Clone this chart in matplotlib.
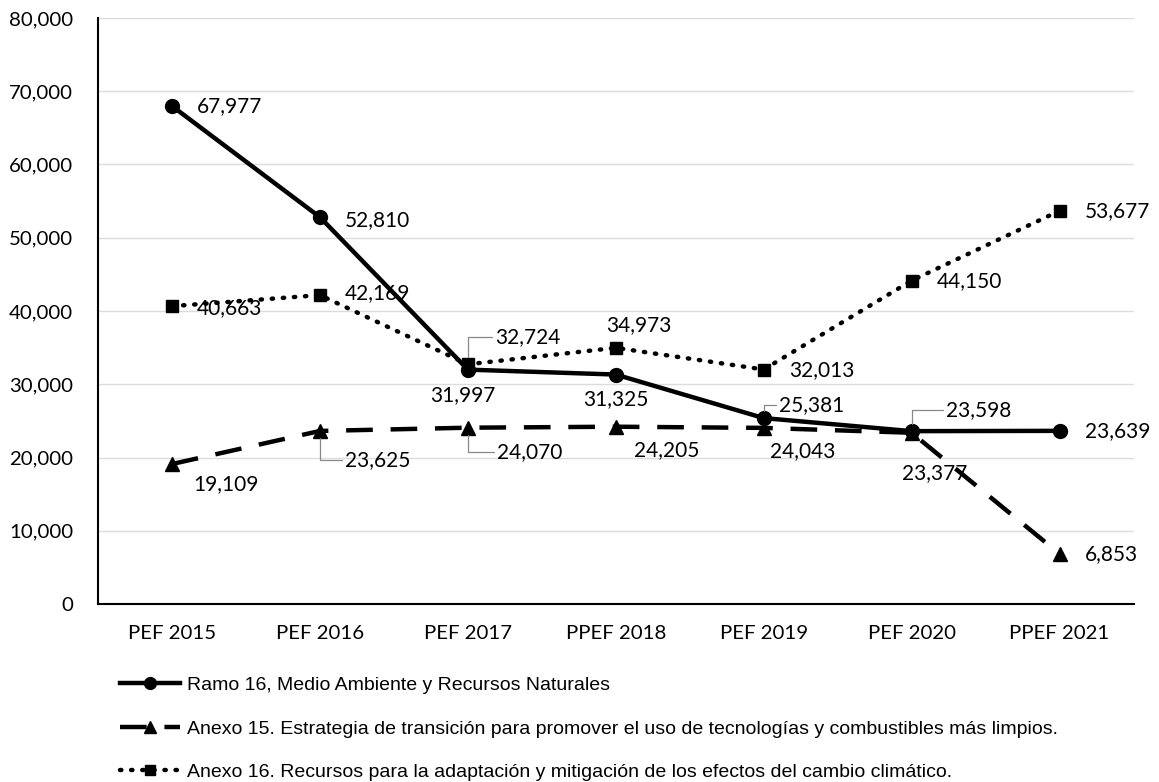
import matplotlib.pyplot as plt
from matplotlib.ticker import FuncFormatter

years = ["PEF 2015", "PEF 2016", "PEF 2017", "PPEF 2018", "PEF 2019", "PEF 2020", "PPEF 2021"]
ramo16 = [67977, 52810, 31997, 31325, 25381, 23598, 23639]
anexo15 = [19109, 23625, 24070, 24205, 24043, 23377, 6853]
anexo16 = [40663, 42169, 32724, 34973, 32013, 44150, 53677]

lab_ramo16 = "Ramo 16, Medio Ambiente y Recursos Naturales"
lab_anexo15 = "Anexo 15. Estrategia de transición para promover el uso de tecnologías y combustibles más limpios."
lab_anexo16 = "Anexo 16. Recursos para la adaptación y mitigación de los efectos del cambio climático."

# label offsets in pixels (dx, dy, leader line?)
off_ramo16 = [(25, 0, 0), (25, -3, 0), (-5, -25, 0), (0, -25, 0), (48, 13, 1), (67, 21, 1), (25, 0, 0)]
off_anexo15 = [(54, -20, 0), (58, -29, 1), (62, -24, 1), (51, -23, 0), (39, -23, 0), (23, -40, 0), (25, 0, 0)]
off_anexo16 = [(25, -2, 0), (25, 2, 0), (60, 27, 1), (23, 23, 0), (25, -1, 0), (25, 0, 0), (25, 0, 0)]

num_font = "Lato"

fig = plt.figure(figsize=(11.59, 7.82), dpi=100)
ax = fig.add_axes([0.0846, 0.2276, 0.8934, 0.7494])

x = list(range(len(years)))
ax.plot(x, ramo16, color="black", lw=3.2, marker="o", markersize=10, label=lab_ramo16, zorder=4)
ax.plot(x, anexo15, color="black", lw=3.2, linestyle=(0, (6, 4)), marker="^", markersize=10,
        label=lab_anexo15, zorder=3)
ax.plot(x, anexo16, color="black", lw=3.2, linestyle=(0, (0.3, 2.2)), dash_capstyle="round",
        marker="s", markersize=9, label=lab_anexo16, zorder=3)

def put_labels(vals, offs):
    for i, (v, o) in enumerate(zip(vals, offs)):
        dx, dy, lead = o
        ha = "left" if dx == 25 else "center"
        kw = {}
        if lead:
            kw["arrowprops"] = dict(arrowstyle="-", color="#888888", lw=0.9,
                                    connectionstyle="angle,angleA=0,angleB=90,rad=0",
                                    shrinkA=0, shrinkB=5)
        ax.annotate(f"{v:,}", (i, v), xytext=(dx, dy), textcoords="offset pixels",
                    ha=ha, va="center", fontsize=15, family=num_font, zorder=6, **kw)

put_labels(ramo16, off_ramo16)
put_labels(anexo15, off_anexo15)
put_labels(anexo16, off_anexo16)

ax.set_xlim(-0.5, len(years) - 0.5)
ax.set_ylim(0, 80000)
ax.set_yticks(range(0, 80001, 10000))
ax.yaxis.set_major_formatter(FuncFormatter(lambda v, p: f"{int(v):,}"))
ax.set_xticks(x)
ax.set_xticklabels(years)
ax.grid(axis="y", color="#dcdcdc", lw=1)
ax.set_axisbelow(True)
for s in ["top", "right"]:
    ax.spines[s].set_visible(False)
ax.spines["left"].set_linewidth(1.5)
ax.spines["bottom"].set_linewidth(1.5)
ax.tick_params(length=0, labelsize=14.7)
ax.tick_params(axis="y", pad=18)
ax.tick_params(axis="x", pad=15)
for t in ax.get_yticklabels() + ax.get_xticklabels():
    t.set_family(num_font)

fig.legend(loc="upper left", bbox_to_anchor=(0.1035, 0.135), frameon=False,
           handlelength=3.1, handletextpad=0.36, labelspacing=1.33, borderaxespad=0,
           borderpad=0, markerscale=0.85, prop={"family": "Liberation Sans", "size": 14})

fig.savefig("out.png", dpi=100)
